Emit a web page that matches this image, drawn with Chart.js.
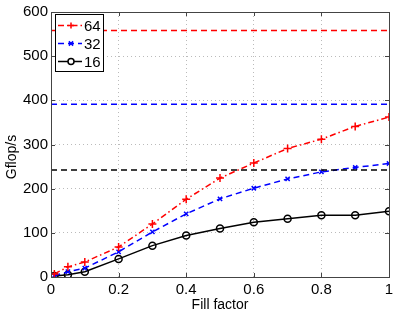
<!DOCTYPE html>
<html>
<head>
<meta charset="utf-8">
<script src="https://cdn.jsdelivr.net/npm/chart.js@4.4.0/dist/chart.umd.min.js"></script>
<style>
html,body{margin:0;padding:0;background:#fff;}
#wrap{width:399px;height:314px;}
</style>
</head>
<body>
<div id="wrap"><canvas id="c" width="399" height="314"></canvas></div>
<script>
const fillFactor = [0.01, 0.05, 0.1, 0.2, 0.3, 0.4, 0.5, 0.6, 0.7, 0.8, 0.9, 1.0];
const s64 = [7, 23, 34, 68, 120, 176, 224, 258, 291, 312, 341, 362];
const s32 = [3, 12, 20, 57, 102, 143, 177, 201, 222, 238, 248, 257];
const s16 = [2, 5, 12, 41, 71, 94, 110, 124, 132, 140, 140, 149];
const peak = {"64": 558, "32": 391, "16": 242};
const seriesNames = ["64", "32", "16"];
const xTicks = [0, 0.2, 0.4, 0.6, 0.8, 1];
const yTicks = [0, 100, 200, 300, 400, 500, 600];

const FONT = "'Liberation Sans', Arial, Helvetica, sans-serif";
const pts = arr => arr.map((v, i) => ({x: fillFactor[i], y: v}));
const hline = v => [{x: 0, y: v}, {x: 1, y: v}];

const styles = {
  "64": {color: '#ff0000', dash: [6, 3, 1.5, 3], point: 'cross', radius: 4},
  "32": {color: '#0000ff', dash: [6, 4], point: 'crossRot', radius: 3},
  "16": {color: '#000000', dash: [], point: 'circle', radius: 3.5}
};
const seriesData = {"64": s64, "32": s32, "16": s16};

const datasets = [];
seriesNames.forEach(n => {
  datasets.push({
    label: 'peak' + n, data: hline(peak[n]), borderColor: styles[n].color,
    borderDash: [6, 4], borderWidth: 1.5, pointRadius: 0, fill: false
  });
});
seriesNames.forEach(n => {
  const st = styles[n];
  datasets.push({
    label: n, data: pts(seriesData[n]), borderColor: st.color,
    borderDash: st.dash, borderWidth: 1.5, pointStyle: st.point,
    pointRadius: st.radius, pointBorderWidth: 1.5, pointBorderColor: st.color,
    pointBackgroundColor: 'rgba(0,0,0,0)', fill: false, tension: 0
  });
});

const framePlugin = {
  id: 'frame',
  afterDraw(chart) {
    const {ctx, chartArea: a, scales} = chart;
    ctx.save();
    ctx.strokeStyle = '#444';
    ctx.lineWidth = 1;
    ctx.setLineDash([]);
    ctx.strokeRect(Math.round(a.left) + 0.5, Math.round(a.top) + 0.5,
      Math.round(a.right - a.left), Math.round(a.bottom - a.top));
    // inward ticks
    ctx.beginPath();
    xTicks.forEach(t => {
      const px = Math.round(scales.x.getPixelForValue(t)) + 0.5;
      ctx.moveTo(px, a.bottom); ctx.lineTo(px, a.bottom - 4);
      ctx.moveTo(px, a.top); ctx.lineTo(px, a.top + 4);
    });
    yTicks.forEach(t => {
      const py = Math.round(scales.y.getPixelForValue(t)) + 0.5;
      ctx.moveTo(a.left, py); ctx.lineTo(a.left + 4, py);
      ctx.moveTo(a.right, py); ctx.lineTo(a.right - 4, py);
    });
    ctx.stroke();
    // y title
    ctx.fillStyle = '#000';
    ctx.font = '14px ' + FONT;
    ctx.translate(12, 157);
    ctx.rotate(-Math.PI / 2);
    ctx.textAlign = 'center';
    ctx.textBaseline = 'middle';
    ctx.fillText('Gflop/s', 0, 0);
    ctx.restore();

    // legend
    ctx.save();
    const lx = 55.5, ly = 14.5, lw = 48, lh = 57;
    ctx.fillStyle = '#fff';
    ctx.fillRect(lx, ly, lw, lh);
    ctx.strokeStyle = '#000';
    ctx.lineWidth = 1;
    ctx.strokeRect(lx, ly, lw, lh);
    seriesNames.forEach((n, i) => {
      const st = styles[n];
      const y = 25.5 + i * 18;
      ctx.strokeStyle = st.color;
      ctx.lineWidth = 1.5;
      ctx.setLineDash(st.dash);
      ctx.beginPath(); ctx.moveTo(58, y); ctx.lineTo(82, y); ctx.stroke();
      ctx.setLineDash([]);
      ctx.fillStyle = '#fff';
      Chart.helpers.drawPoint(ctx, {pointStyle: st.point, radius: 3, borderWidth: 1.5}, 71, y);
      ctx.fillStyle = '#000';
      ctx.font = '15px ' + FONT;
      ctx.textAlign = 'left';
      ctx.textBaseline = 'middle';
      ctx.fillText(n, 84, y + 1);
    });
    ctx.restore();
  }
};

new Chart(document.getElementById('c'), {
  type: 'line',
  data: {datasets},
  options: {
    responsive: false,
    animation: false,
    devicePixelRatio: 1,
    layout: {padding: {top: 11, right: 10, left: 0, bottom: 0}},
    plugins: {legend: {display: false}, tooltip: {enabled: false}},
    scales: {
      x: {
        type: 'linear', min: 0, max: 1,
        afterBuildTicks: s => { s.ticks = xTicks.map(v => ({value: v})); },
        afterFit: s => { s.height = 37; },
        ticks: {color: '#000', font: {family: FONT, size: 15}, padding: 4,
          maxRotation: 0, callback: v => String(v)},
        grid: {color: '#bbb', drawTicks: false, lineWidth: 1},
        border: {display: false, dash: [1, 3]},
        title: {display: true, text: 'Fill factor', color: '#000',
          font: {family: FONT, size: 14}, padding: {top: 1, bottom: 0}}
      },
      y: {
        type: 'linear', min: 0, max: 600,
        afterBuildTicks: s => { s.ticks = yTicks.map(v => ({value: v})); },
        afterFit: s => { s.width = 51; },
        ticks: {color: '#000', font: {family: FONT, size: 15}, padding: 3},
        grid: {color: '#bbb', drawTicks: false, lineWidth: 1},
        border: {display: false, dash: [1, 3]}
      }
    }
  },
  plugins: [framePlugin]
});
</script>
</body>
</html>
